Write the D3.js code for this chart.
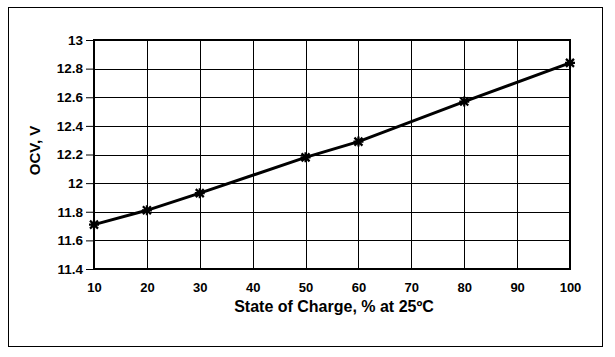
<!DOCTYPE html>
<html><head><meta charset="utf-8">
<script src="https://cdn.jsdelivr.net/npm/d3@7"></script>
<style>
body{margin:0;background:#fff;}
svg text{font-family:"Liberation Sans",Arial,sans-serif;font-weight:bold;fill:#000;}
</style></head>
<body><svg id="c" width="615" height="357"></svg>
<script>
const soc = [10, 20, 30, 50, 60, 80, 100];
const ocv = [11.71, 11.81, 11.93, 12.18, 12.29, 12.57, 12.84];
const xTicks = [10, 20, 30, 40, 50, 60, 70, 80, 90, 100];
const yTicks = [11.4, 11.6, 11.8, 12, 12.2, 12.4, 12.6, 12.8, 13];
const xTitle = "State of Charge, % at 25ºC";
const yTitle = "OCV, V";

const svg = d3.select("#c");
const L = 94, R = 570, T = 40, B = 269;
const x = d3.scaleLinear().domain([10, 100]).range([L, R]);
const y = d3.scaleLinear().domain([11.4, 13]).range([B, T]);

svg.append("rect").attr("x", 8.5).attr("y", 7.5).attr("width", 594).attr("height", 339)
  .attr("fill", "#fff").attr("stroke", "#000").attr("stroke-width", 1);

// grid
svg.append("g").selectAll("line").data(xTicks).join("line")
  .attr("x1", d => Math.round(x(d)) + 0.5).attr("x2", d => Math.round(x(d)) + 0.5)
  .attr("y1", T).attr("y2", B).attr("stroke", "#000").attr("stroke-width", 1);
svg.append("g").selectAll("line").data(yTicks).join("line")
  .attr("x1", L).attr("x2", R)
  .attr("y1", d => Math.round(y(d)) + 0.5).attr("y2", d => Math.round(y(d)) + 0.5)
  .attr("stroke", "#000").attr("stroke-width", 1);

// axes
const yAxis = d3.axisLeft(y).tickValues(yTicks).tickFormat(d3.format("~g")).tickSize(8).tickPadding(3);
const gy = svg.append("g").attr("transform", `translate(${L},0)`).call(yAxis);
gy.select(".domain").remove();
gy.selectAll("text").attr("font-size", 13.5).attr("font-family", "Liberation Sans").attr("font-weight", "bold");
gy.selectAll("line").attr("stroke", "#000");

const xAxis = d3.axisBottom(x).tickValues(xTicks).tickSize(0).tickPadding(14);
const gx = svg.append("g").attr("transform", `translate(0,${B})`).call(xAxis);
gx.select(".domain").remove();
gx.selectAll("text").attr("font-size", 13).attr("font-family", "Liberation Sans").attr("font-weight", "bold");

// plot border
svg.append("rect").attr("x", L).attr("y", T).attr("width", R - L).attr("height", B - T)
  .attr("fill", "none").attr("stroke", "#000").attr("stroke-width", 2);

// line
const pts = soc.map((d, i) => [d, ocv[i]]);
svg.append("path").datum(pts)
  .attr("d", d3.line().x(d => x(d[0])).y(d => y(d[1])))
  .attr("fill", "none").attr("stroke", "#000").attr("stroke-width", 3);

// markers: asterisk
const mk = svg.append("g").selectAll("g").data(pts).join("g")
  .attr("transform", d => `translate(${x(d[0])},${y(d[1])})`);
mk.append("path").attr("d", "M-4,-4L4,4M-4,4L4,-4M0,-5L0,5M-5,0L5,0")
  .attr("stroke", "#000").attr("stroke-width", 2.2);

// titles
svg.append("text").attr("x", (L + R) / 2 + 2).attr("y", 312).attr("text-anchor", "middle")
  .attr("font-size", 16).text(xTitle);
svg.append("text").attr("transform", `translate(40,${(T + B) / 2 - 4}) rotate(-90)`)
  .attr("text-anchor", "middle").attr("font-size", 15).text(yTitle);
</script></body></html>
